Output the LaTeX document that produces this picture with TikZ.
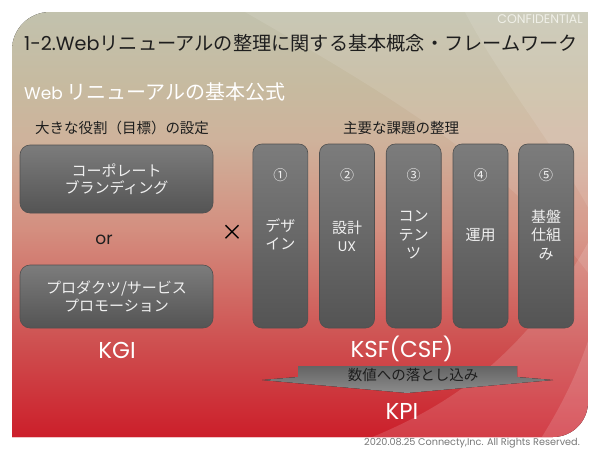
\documentclass[tikz,border=0pt]{standalone}
\usepackage{fontspec}
\setmainfont{Noto Sans CJK JP}
\newfontfamily\lat{Poppins}
\definecolor{boxtop}{RGB}{124,124,124}
\definecolor{boxbot}{RGB}{84,84,84}
\definecolor{boxline}{RGB}{80,80,80}
\definecolor{darktxt}{RGB}{30,30,30}
\definecolor{boxtxt}{RGB}{240,240,240}
\definecolor{arrtop}{RGB}{100,100,100}
\definecolor{arrbot}{RGB}{140,140,140}
\definecolor{foot}{RGB}{120,120,120}
\definecolor{conf}{RGB}{240,240,232}
\pgfdeclareverticalshading{bgsh}{100bp}{rgb(0bp)=(0.80,0.12,0.165); rgb(25bp)=(0.80,0.12,0.165); rgb(36.5bp)=(0.81,0.32,0.32); rgb(49.5bp)=(0.83,0.56,0.50); rgb(60bp)=(0.81,0.70,0.61); rgb(66bp)=(0.78,0.73,0.625); rgb(75bp)=(0.76,0.76,0.68); rgb(100bp)=(0.76,0.76,0.68)}
\tikzset{
  gbox/.style={draw=boxline, line width=0.6pt, rounded corners=10pt, top color=boxtop, bottom color=boxbot, text=boxtxt, align=center, inner sep=0pt, font=\fontsize{15}{17.5}\selectfont},
  gcol/.style={draw=boxline, line width=0.6pt, rounded corners=9pt, top color=boxtop, bottom color=boxbot, minimum width=55pt, minimum height=184pt, inner sep=0pt},
  numtxt/.style={text=boxtxt, font=\fontsize{14}{16}\selectfont, inner sep=0pt},
  coltxt/.style={text=boxtxt, align=center, font=\fontsize{15}{18.3}\selectfont, inner sep=0pt},
  head/.style={text=darktxt, font=\fontsize{14.5}{17}\selectfont, inner sep=0pt},
  big/.style={text=white, font=\lat\fontsize{23}{26}\selectfont, inner sep=0pt}
}
\begin{document}
\begin{tikzpicture}[x=1pt,y=-1pt]
\useasboundingbox (0,0) rectangle (600,450);
\fill[white] (0,0) rectangle (600,450);
\begin{scope}
\clip (12,437) -- (12,50) .. controls (12,29) and (29,12) .. (50,12) -- (588,12) -- (588,402) .. controls (588,421.3) and (572.3,437) .. (553,437) -- cycle;
\fill[shading=bgsh] (12,12) rectangle (588,437);
% light swooshes
\fill[white,opacity=0.10] (245,12) .. controls (380,90) and (520,170) .. (600,290) -- (600,0) -- (245,0) -- cycle;
\fill[white,opacity=0.10] (465,12) .. controls (500,80) and (560,150) .. (600,230) -- (600,0) -- cycle;
\fill[white,opacity=0.14] (365,440) .. controls (440,410) and (530,360) .. (600,220) -- (600,450) -- (365,450) -- cycle;
\fill[white,opacity=0.14] (540,440) .. controls (565,400) and (585,360) .. (600,300) -- (600,450) -- cycle;
\draw[red!80!black, line width=0.6pt] (12,437) -- (553,437);
\end{scope}

% header texts
\node[anchor=east, text=conf, font=\lat\fontsize{12.5}{14}\selectfont, inner sep=0pt] (conf) at (583,19) {CONFIDENTIAL};
\node[anchor=west, text=darktxt, font=\fontsize{19.2}{22}\selectfont, inner sep=0pt] (title) at (24,43) {{\lat 1-2.Web}リニューアルの整理に関する基本概念・フレームワーク};
\node[anchor=west, text=white, font=\fontsize{20}{22}\selectfont, inner sep=0pt] (sub) at (24,92) {{\lat\fontsize{17}{20}\selectfont Web}\,リニューアルの基本公式};

\node[head] (h1) at (122,128) {大きな役割（目標）の設定};
\node[head] (h2) at (401,128) {主要な課題の整理};

% left boxes
\node[gbox, minimum width=193pt, minimum height=68pt] (b1) at (116.5,179) {コーポレート\\ブランディング};
\node[gbox, minimum width=193pt, minimum height=63pt] (b2) at (116.5,296.5) {プロダクツ/サービス\\プロモーション};
\node[text=darktxt, font=\lat\fontsize{17}{20}\selectfont, inner sep=0pt] (or) at (104,240) {or};
\node[text=black, font=\fontsize{22}{24}\selectfont, inner sep=0pt] (times) at (232,233) {×};

% columns
\node[gcol] (c1) at (280.3,236) {};
\node[gcol] (c2) at (347,236) {};
\node[gcol] (c3) at (413.7,236) {};
\node[gcol] (c4) at (480.5,236) {};
\node[gcol] (c5) at (546.2,236) {};
\node[numtxt] (n1) at (280.3,175) {①};
\node[numtxt] (n2) at (347,175) {②};
\node[numtxt] (n3) at (413.7,175) {③};
\node[numtxt] (n4) at (480.5,175) {④};
\node[numtxt] (n5) at (546.2,175) {⑤};
\node[coltxt] (t1) at (280.3,234) {デザ\\イン};
\node[coltxt] (t2) at (347,236) {設計\\{\lat\fontsize{14}{16}\selectfont UX}};
\node[coltxt] (t3) at (413.7,235) {コン\\テン\\ツ};
\node[coltxt] (t4) at (480.5,235) {運用};
\node[coltxt] (t5) at (546.2,235) {基盤\\仕組\\み};

% bottom labels
\node[big] (kgi) at (117,350) {KGI};
\node[big] (ksf) at (402,349) {KSF(CSF)};
\fill[top color=arrtop, bottom color=arrbot] (298,366) -- (517,366) -- (517,377) -- (553,380) -- (407,393) -- (262,380) -- (298,377) -- cycle;
\node[text=darktxt, font=\fontsize{14.5}{16}\selectfont, inner sep=0pt] (arrtxt) at (413,375) {数値への落とし込み};
\node[big] (kpi) at (402,411) {KPI};

\node[anchor=east, text=foot, font=\lat\fontsize{9.7}{11}\selectfont, inner sep=0pt] (footer) at (580,443) {2020.08.25 Connecty,Inc. All Rights Reserved.};
\end{tikzpicture}
\end{document}
